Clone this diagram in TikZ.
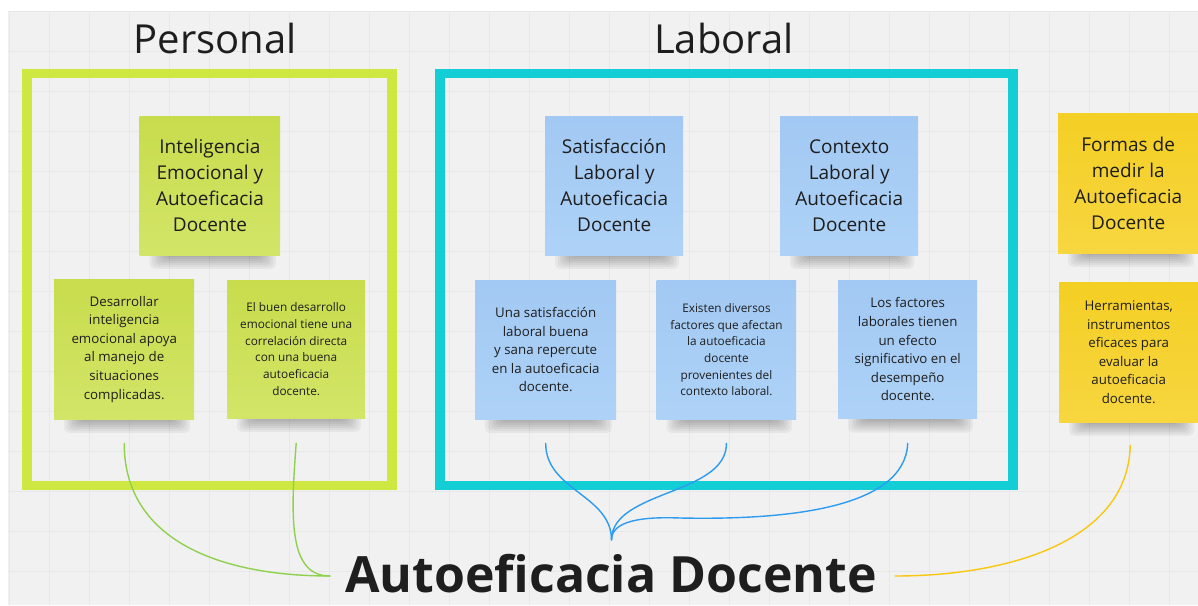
\documentclass[tikz,border=0pt]{standalone}
\usepackage{fontspec}
\setmainfont{Open Sans}
\usetikzlibrary{calc}
\definecolor{bg}{HTML}{F1F1F1}
\definecolor{gridc}{HTML}{E8E8E8}
\definecolor{limeframe}{HTML}{CFE741}
\definecolor{cyanframe}{HTML}{13CED5}
\definecolor{greentop}{HTML}{C8DC4C}
\definecolor{greenbot}{HTML}{D3E568}
\definecolor{bluetop}{HTML}{A2C9F3}
\definecolor{bluebot}{HTML}{AED2F7}
\definecolor{yellowtop}{HTML}{F4CF24}
\definecolor{yellowbot}{HTML}{F7D640}
\definecolor{gline}{HTML}{8FD14F}
\definecolor{bline}{HTML}{2D9BF0}
\definecolor{yline}{HTML}{FAC710}
\definecolor{ink}{HTML}{1E1E1E}
\tikzset{
  notebox/.style={anchor=north west, inner sep=0pt, align=center, text=ink},
  greennote/.style={notebox, top color=greentop, bottom color=greenbot},
  bluenote/.style={notebox, top color=bluetop, bottom color=bluebot},
  yellownote/.style={notebox, top color=yellowtop, bottom color=yellowbot},
  titlefont/.style={font=\fontsize{19}{26}\selectfont},
  bodyfont/.style={font=\fontsize{13.3}{18.6}\selectfont},
  smallfont/.style={font=\fontsize{11.8}{16.7}\selectfont},
  frame/.style={line width=9.3pt},
  link/.style={line width=1.4pt, line cap=round},
  heading/.style={anchor=base, text=ink, font=\fontsize{40}{48}\selectfont},
}
\begin{document}
\begin{tikzpicture}[x=1pt,y=-1pt]
% canvas
\fill[white] (0,0) rectangle (1198,605);
\useasboundingbox (0,0) rectangle (1198,605);
\fill[bg] (8,11) rectangle (1198,605);
\foreach \gx in {9,49,...,1198} \draw[gridc, line width=0.6pt] (\gx,11) -- (\gx,605);
\foreach \gy in {11,51,...,605} \draw[gridc, line width=0.6pt] (8,\gy) -- (1198,\gy);

% headings
\node[heading] (hpers) at (215,53) {Personal};
\node[heading] (hlab) at (724,53) {Laboral};

% frames
\draw[frame, limeframe] (27,73.5) rectangle (392,485.3);
\draw[frame, cyanframe] (440,73.5) rectangle (1013,485.3);

% shadows of notes
\foreach \l/\r/\b in {139.5/280/255, 54/194/419, 227/365/418, 545/683/255, 780/918/255,
  475/616/419, 656.5/796/419, 838/977/418.5, 1058/1198/253, 1059/1198/422}{
  \foreach \i in {0,...,6}{
    \fill[black, opacity=0.045, rounded corners=5pt] (\l+10+2.5*\i,\b-6) rectangle (\r-4-2.5*\i,\b+14-2*\i);
  }
}

% personal notes
\node[greennote, titlefont, minimum width=140.5pt, minimum height=139pt] (gt) at (139.5,116)
  {Inteligencia\\Emocional y\\Autoeficacia\\Docente};
\node[greennote, bodyfont, minimum width=140pt, minimum height=140pt] (gn1) at (54,279)
  {Desarrollar\\inteligencia\\emocional apoya\\al manejo de\\situaciones\\complicadas.};
\node[greennote, smallfont, minimum width=138pt, minimum height=138pt] (gn2) at (227,280)
  {El buen desarrollo\\emocional tiene una\\correlación directa\\con una buena\\autoeficacia\\docente.};

% laboral notes
\node[bluenote, titlefont, minimum width=138pt, minimum height=139pt] (bt1) at (545,116)
  {Satisfacción\\Laboral y\\Autoeficacia\\Docente};
\node[bluenote, titlefont, minimum width=138pt, minimum height=139pt] (bt2) at (780,116)
  {Contexto\\Laboral y\\Autoeficacia\\Docente};
\node[bluenote, bodyfont, minimum width=141pt, minimum height=139pt] (bn1) at (475,280)
  {Una satisfacción\\laboral buena\\y sana repercute\\en la autoeficacia\\docente.};
\node[bluenote, smallfont, minimum width=139.5pt, minimum height=139pt] (bn2) at (656.5,280)
  {Existen diversos\\factores que afectan\\la autoeficacia\\docente\\provenientes del\\contexto laboral.};
\node[bluenote, bodyfont, minimum width=139pt, minimum height=138.5pt] (bn3) at (838,280)
  {Los factores\\laborales tienen\\un efecto\\significativo en el\\desempeño\\docente.};

% measuring notes
\node[yellownote, titlefont, minimum width=140pt, minimum height=140pt] (yt) at (1058,113)
  {Formas de\\medir la\\Autoeficacia\\Docente};
\node[yellownote, bodyfont, minimum width=139pt, minimum height=140pt] (yn) at (1059,282)
  {Herramientas,\\instrumentos\\eficaces para\\evaluar la\\autoeficacia\\docente.};

% central title
\node[anchor=base, inner sep=0pt, text=ink, font=\fontsize{50}{60}\bfseries\selectfont] (main) at (611,592)
  {Autoeficacia Docente};

% connector anchors
\coordinate (sg1) at ($(gn1.south)+(0,24)$);
\coordinate (sg2) at ($(gn2.south)+(0,25)$);
\coordinate (sb1) at ($(bn1.south)+(0,24)$);
\coordinate (sb2) at ($(bn2.south)+(0,24)$);
\coordinate (sb3) at ($(bn3.south)+(0,24.5)$);
\coordinate (sy) at ($(yn.south)+(1.5,23)$);
\coordinate (gend) at ($(main.base west)+(-15,-16)$);
\coordinate (bend) at ($(main.base)+(0.5,-52)$);
\coordinate (yend) at ($(main.base east)+(18,-16)$);
\coordinate (bmid) at (680,518);

% connectors
\draw[link, gline] (sg1) .. controls ($(sg1)+(0,97)$) and ($(gend)+(-110,0)$) .. (gend);
\draw[link, gline] (sg2) .. controls ($(sg2)+(-6,77)$) and ($(gend)+(-41,0)$) .. (gend);
\draw[link, bline] (sb1) .. controls ($(sb1)+(0,47)$) and ($(bend)+(0,-45)$) .. (bend);
\draw[link, bline] (sb2) .. controls ($(sb2)+(0,52)$) and ($(bend)+(0,-50)$) .. (bend);
\draw[link, bline] (sb3) .. controls ($(sb3)+(-3,67)$) and (780,520) .. (bmid)
  .. controls (630,516) and ($(bend)+(0,-15)$) .. (bend);
\draw[link, yline] (sy) .. controls ($(sy)+(-2,95)$) and ($(yend)+(115,0)$) .. (yend);
\end{tikzpicture}
\end{document}
